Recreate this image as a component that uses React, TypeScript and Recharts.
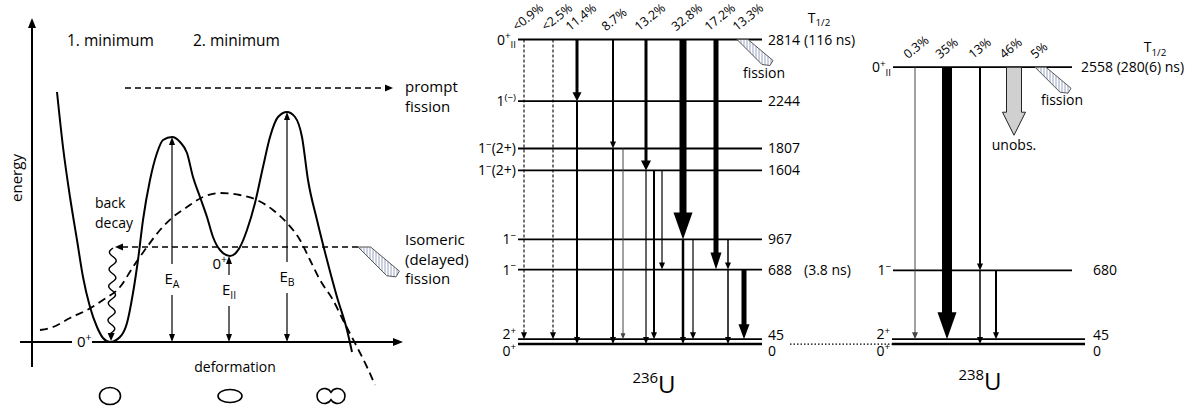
import React from "react";
import { ComposedChart, Line, XAxis, YAxis, ReferenceLine, ReferenceDot } from "recharts";

const FONT = "'Open Sans', 'Noto Sans', sans-serif";

/* ---------- potential energy along the fission path (arbitrary units) ---------- */

// [deformation, energy] read along the double-humped barrier
const doubleHump: [number, number][] = [
  [2.5, 25.0], [3.1, 19.5], [3.8, 14.5], [4.5, 10.2], [5.1, 6.5], [5.8, 3.5], [6.5, 1.5],
  [7.1, 0.4], [7.8, 0], [8.8, 0.5], [9.5, 1.9], [10.1, 4.9], [10.6, 8.2], [11.1, 12.2],
  [11.8, 16.2], [12.5, 18.9], [13.1, 20.2], [14.0, 20.5], [14.8, 20.0], [15.5, 18.9],
  [16.1, 16.5], [16.8, 14.5], [17.5, 12.5], [18.1, 10.5], [18.8, 9.2], [19.8, 8.6],
  [20.8, 9.5], [21.5, 11.2], [22.3, 13.9], [23.1, 17.5], [23.8, 20.5], [24.6, 22.5],
  [25.5, 23.0], [26.3, 22.5], [27.0, 20.5], [27.6, 16.2], [28.5, 12.2], [29.5, 8.2],
  [30.5, 4.5], [31.5, 1.2], [32.0, -1.0],
];

// liquid-drop barrier (dashed)
const liquidDrop: [number, number][] = [
  [0.8, 1.2], [2.1, 1.5], [3.8, 2.4], [5.5, 3.2], [7.1, 4.2], [8.8, 5.5], [10.1, 7.5],
  [11.5, 9.5], [12.8, 11.2], [14.1, 12.5], [15.5, 13.5], [17.1, 14.5], [18.8, 14.9],
  [20.8, 14.7], [22.5, 14.2], [24.1, 13.2], [25.5, 11.9], [26.8, 10.2], [27.8, 8.2],
  [28.8, 6.2], [30.1, 4.2], [31.1, 2.2], [32.5, -0.5], [33.5, -2.5], [34.3, -4.3],
];

const barriers = [
  { label: "E_{A}", d: 14.0, top: 20.5, at: 6.3 },
  { label: "E_{II}", d: 19.7, top: 8.6, at: 5.2 },
  { label: "E_{B}", d: 25.5, top: 23.0, at: 6.5 },
];

const isomerE = 9.5;
const promptE = 25.4;

const nuclearShapes = [
  { kind: "sphere", d: 7.8 },
  { kind: "prolate", d: 19.8 },
  { kind: "necked", d: 29.9 },
];

const notesLeft = [
  { d: 3.5, e: 29.6, lines: ["1. minimum"], size: 15.5 },
  { d: 16.1, e: 29.6, lines: ["2. minimum"], size: 15.5 },
  { d: 37.3, e: 25.0, lines: ["prompt", "fission"], size: 15 },
  { d: 37.3, e: 9.7, lines: ["Isomeric", "(delayed)", "fission"], size: 15 },
  { d: 6.3, e: 13.4, lines: ["back", "decay"], size: 14 },
  { d: 20.3, e: -3.0, lines: ["deformation"], size: 14, anchor: "middle" },
];

/* ---------- level schemes (energies in keV) ---------- */

type Level = { E: number; jp: string; note?: string };
type Gamma = { from: number; to: number; branch?: string };
type GStyle = { w: number; hw: number; hl: number; dash?: string; color?: string };

const levels236: Level[] = [
  { E: 2814, jp: "0^{+}_{II}", note: "(116 ns)" },
  { E: 2244, jp: "1^{(−)}" },
  { E: 1807, jp: "1^{−}(2+)" },
  { E: 1604, jp: "1^{−}(2+)" },
  { E: 967, jp: "1^{−}" },
  { E: 688, jp: "1^{−}", note: "(3.8 ns)" },
  { E: 45, jp: "2^{+}" },
  { E: 0, jp: "0^{+}" },
];

const gammas236: Gamma[] = [
  { from: 2814, to: 45, branch: "<0.9%" },
  { from: 2814, to: 45, branch: "<2.5%" },
  { from: 2814, to: 2244, branch: "11.4%" },
  { from: 2814, to: 1807, branch: "8.7%" },
  { from: 2814, to: 1604, branch: "13.2%" },
  { from: 2814, to: 967, branch: "32.8%" },
  { from: 2814, to: 688, branch: "17.2%" },
  { from: 2244, to: 0 },
  { from: 1807, to: 0 },
  { from: 1807, to: 45 },
  { from: 1604, to: 0 },
  { from: 1604, to: 45 },
  { from: 1604, to: 688 },
  { from: 967, to: 0 },
  { from: 967, to: 45 },
  { from: 967, to: 688 },
  { from: 688, to: 0 },
  { from: 688, to: 45 },
];
const fission236 = { E: 2814, branch: "13.3%" };

const levels238: Level[] = [
  { E: 2558, jp: "0^{+}_{II}", note: "(280(6) ns)" },
  { E: 680, jp: "1^{−}" },
  { E: 45, jp: "2^{+}" },
  { E: 0, jp: "0^{+}" },
];

const gammas238: Gamma[] = [
  { from: 2558, to: 45, branch: "0.3%" },
  { from: 2558, to: 45, branch: "35%" },
  { from: 2558, to: 680, branch: "13%" },
  { from: 680, to: 0 },
  { from: 680, to: 45 },
];
const unobserved238 = { E: 2558, branch: "46%" };
const fission238 = { E: 2558, branch: "5%" };

/* ---------- drawing layout ---------- */

const thin: GStyle = { w: 1.2, hw: 6, hl: 7 };
const lanes236 = [54, 83, 107, 143, 176, 213, 246, 107, 143, 153, 176, 184, 192, 213, 223, 258, 258, 274];
const styles236: GStyle[] = [
  { w: 1.1, hw: 6, hl: 7, dash: "3 2" },
  { w: 1.1, hw: 6, hl: 7, dash: "3 2" },
  { w: 3, hw: 9, hl: 9 },
  { w: 2, hw: 6, hl: 7 },
  { w: 3, hw: 10, hl: 10 },
  { w: 7, hw: 19, hl: 27 },
  { w: 5, hw: 11, hl: 17 },
  { w: 2, hw: 6, hl: 7 },
  { w: 2, hw: 6, hl: 7 },
  { w: 1, hw: 5, hl: 6, color: "#444" },
  thin,
  { w: 2, hw: 6, hl: 7 },
  thin,
  { w: 2.5, hw: 6, hl: 7 },
  thin,
  { w: 1.5, hw: 6, hl: 7 },
  { w: 1.5, hw: 6, hl: 7 },
  { w: 5, hw: 11, hl: 15 },
];
const lanes238 = [445, 477, 510, 510, 526];
const styles238: GStyle[] = [
  { w: 1, hw: 6, hl: 7, color: "#444" },
  { w: 10, hw: 19, hl: 27 },
  { w: 2, hw: 6, hl: 7 },
  { w: 1.5, hw: 6, hl: 7 },
  { w: 2, hw: 6, hl: 7 },
];

const PCT = 12.5;
const LABEL = 14;

/* ---------- helpers ---------- */

// superscript ^{..} and subscript _{..} markup to tspans
function rich(src: string, size: number) {
  const parts: { t: string; k: string }[] = [];
  const re = /([\^_])\{([^}]*)\}|([^\^_]+)/g;
  let m: RegExpExecArray | null;
  while ((m = re.exec(src))) {
    if (m[3]) parts.push({ t: m[3], k: "n" });
    else parts.push({ t: m[2], k: m[1] === "^" ? "sup" : "sub" });
  }
  let cur = 0;
  return parts.map((p, i) => {
    const target = p.k === "sup" ? -0.4 * size : p.k === "sub" ? 0.28 * size : 0;
    const dy = target - cur;
    cur = target;
    return (
      <tspan key={i} dy={dy} fontSize={p.k === "n" ? size : size * 0.7}>
        {p.t}
      </tspan>
    );
  });
}

function head(x: number, y: number, ux: number, uy: number, w: number, l: number) {
  const bx = x - ux * l;
  const by = y - uy * l;
  const px = (-uy * w) / 2;
  const py = (ux * w) / 2;
  return `${x},${y} ${bx + px},${by + py} ${bx - px},${by - py}`;
}

const arrowShape = (o: { w: number; hw: number; hl: number; dash?: string; both?: boolean }) => (p: any) => {
  const { x1, y1, x2, y2 } = p;
  const L = Math.hypot(x2 - x1, y2 - y1);
  const ux = (x2 - x1) / L;
  const uy = (y2 - y1) / L;
  const sx = o.both ? x1 + ux * (o.hl - 1) : x1;
  const sy = o.both ? y1 + uy * (o.hl - 1) : y1;
  return (
    <g>
      <line x1={sx} y1={sy} x2={x2 - ux * (o.hl - 1)} y2={y2 - uy * (o.hl - 1)} stroke="#000" strokeWidth={o.w} strokeDasharray={o.dash} />
      <polygon points={head(x2, y2, ux, uy, o.hw, o.hl)} fill="#000" />
      {o.both && <polygon points={head(x1, y1, -ux, -uy, o.hw, o.hl)} fill="#000" />}
    </g>
  );
};

const wavyShape = (p: any) => {
  const { x1, y1, x2, y2 } = p;
  const L = Math.hypot(x2 - x1, y2 - y1);
  const ux = (x2 - x1) / L;
  const uy = (y2 - y1) / L;
  const hl = 8;
  let d = "";
  for (let t = 0; t <= L - hl + 1; t += 1) {
    const o = 3.5 * Math.sin((2 * Math.PI * t) / 17);
    d += `${t === 0 ? "M" : "L"}${(x1 + ux * t - uy * o).toFixed(2)},${(y1 + uy * t + ux * o).toFixed(2)}`;
  }
  return (
    <g>
      <path d={d} fill="none" stroke="#000" strokeWidth={1.4} />
      <polygon points={head(x2, y2, ux, uy, 7, hl)} fill="#000" />
    </g>
  );
};

// rotated branching-ratio label above the starting level
const branchText = (x: number, y: number, t: string) => (
  <text transform={`translate(${x},${y}) rotate(-39)`} fontSize={PCT} fontFamily={FONT}>
    {t}
  </text>
);

function hatched(id: string, s: number, label?: string, branch?: string) {
  return (p: any) => {
    const { cx, cy } = p;
    const pts = [[0, 0], [11, 0], [36, 21], [33, 26], [25, 25]]
      .map(([a, b]) => `${cx + a * s},${cy + b * s}`)
      .join(" ");
    return (
      <g>
        <defs>
          <pattern id={id} width={3} height={4} patternUnits="userSpaceOnUse">
            <rect width={3} height={4} fill="#fff" />
            <line x1={1} y1={0} x2={1} y2={4} stroke="#9aa3c2" strokeWidth={1} />
          </pattern>
        </defs>
        <polygon points={pts} fill={`url(#${id})`} stroke="#555" strokeWidth={1} />
        {label && (
          <text x={cx + 27} y={cy + 38} textAnchor="middle" fontSize={14} fontFamily={FONT}>
            {label}
          </text>
        )}
        {branch && branchText(cx, cy - 8, branch)}
      </g>
    );
  };
}

const textDot = (n: { lines: string[]; size: number; anchor?: string }) => (p: any) => (
  <text x={p.cx} y={p.cy} fontSize={n.size} fontFamily={FONT} textAnchor={n.anchor ?? "start"}>
    {n.lines.map((l, i) => (
      <tspan key={i} x={p.cx} dy={i === 0 ? 0 : 19.5}>
        {l}
      </tspan>
    ))}
  </text>
);

const shapeDot = (kind: string) => (p: any) => {
  const { cx, cy } = p;
  if (kind === "sphere") return <ellipse cx={cx} cy={cy} rx={10.5} ry={8.5} fill="none" stroke="#000" strokeWidth={1.6} />;
  if (kind === "prolate") return <ellipse cx={cx} cy={cy} rx={12} ry={6.5} fill="none" stroke="#000" strokeWidth={1.6} />;
  const h = 3.74;
  return (
    <path
      d={`M${cx},${cy - h} A7.5 7.5 0 1 0 ${cx},${cy + h} A7.5 7.5 0 1 0 ${cx},${cy - h} Z`}
      fill="none"
      stroke="#000"
      strokeWidth={1.6}
    />
  );
};

const noMargin = { top: 0, right: 0, bottom: 0, left: 0 };

function PotentialPanel() {
  const hump = doubleHump.map(([d, e]) => ({ d, e }));
  const drop = liquidDrop.map(([d, e]) => ({ d, e }));
  return (
    <ComposedChart width={470} height={408} margin={noMargin}>
      <XAxis type="number" dataKey="d" domain={[-3.2, 43.8]} allowDataOverflow hide />
      <YAxis type="number" dataKey="e" domain={[-6.6, 34.2]} allowDataOverflow hide />
      <ReferenceLine segment={[{ x: 0, y: -2.5 }, { x: 0, y: 32.4 }]} ifOverflow="visible" shape={arrowShape({ w: 2, hw: 8, hl: 10 })} />
      <ReferenceLine segment={[{ x: -1.2, y: 0 }, { x: 37.1, y: 0 }]} ifOverflow="visible" shape={arrowShape({ w: 2, hw: 8, hl: 10 })} />
      <Line data={drop} dataKey="e" type="monotone" stroke="#000" strokeWidth={1.8} strokeDasharray="8 5" dot={false} activeDot={false} isAnimationActive={false} />
      <Line data={hump} dataKey="e" type="monotone" stroke="#000" strokeWidth={2} dot={false} activeDot={false} isAnimationActive={false} />
      <ReferenceLine segment={[{ x: 9.3, y: promptE }, { x: 36.1, y: promptE }]} ifOverflow="visible" shape={arrowShape({ w: 1.3, hw: 7, hl: 8, dash: "6 4" })} />
      <ReferenceLine segment={[{ x: 32.6, y: isomerE }, { x: 8.3, y: isomerE }]} ifOverflow="visible" shape={arrowShape({ w: 1.3, hw: 7, hl: 8, dash: "6 4" })} />
      <ReferenceDot x={32.6} y={isomerE} ifOverflow="visible" shape={hatched("hatch-pot", 1.15)} />
      <ReferenceLine segment={[{ x: 8.1, y: isomerE - 0.1 }, { x: 7.9, y: 0.1 }]} ifOverflow="visible" shape={wavyShape} />
      {barriers.map((b) => (
        <ReferenceLine key={b.label} segment={[{ x: b.d, y: 0 }, { x: b.d, y: b.top }]} ifOverflow="visible" shape={arrowShape({ w: 1.2, hw: 6, hl: 8, both: true })} />
      ))}
      {barriers.map((b) => (
        <ReferenceDot
          key={b.label + "t"}
          x={b.d}
          y={b.at}
          ifOverflow="visible"
          shape={(p: any) => (
            <g>
              <rect x={p.cx - 10} y={p.cy - 15} width={20} height={31} fill="#fff" />
              <text x={p.cx} y={p.cy + 5} textAnchor="middle" fontSize={15} fontFamily={FONT}>
                {rich(b.label, 15)}
              </text>
            </g>
          )}
        />
      ))}
      <ReferenceDot
        x={19.5}
        y={7.3}
        ifOverflow="visible"
        shape={(p: any) => (
          <text x={p.cx} y={p.cy} textAnchor="end" fontSize={15} fontFamily={FONT}>
            {rich("0^{+}", 15)}
          </text>
        )}
      />
      <ReferenceDot
        x={4.5}
        y={-0.5}
        ifOverflow="visible"
        shape={(p: any) => (
          <g>
            <rect x={p.cx - 5} y={p.cy - 13} width={20} height={17} fill="#fff" />
            <text x={p.cx} y={p.cy} fontSize={15} fontFamily={FONT}>
              {rich("0^{+}", 15)}
            </text>
          </g>
        )}
      />
      {notesLeft.map((n, i) => (
        <ReferenceDot key={"n" + i} x={n.d} y={n.e} ifOverflow="visible" shape={textDot(n)} />
      ))}
      <ReferenceDot
        x={-1.5}
        y={16.4}
        ifOverflow="visible"
        shape={(p: any) => (
          <text transform={`translate(${p.cx + 5},${p.cy}) rotate(-90)`} textAnchor="middle" fontSize={15} fontFamily={FONT}>
            energy
          </text>
        )}
      />
      {nuclearShapes.map((s) => (
        <ReferenceDot key={s.kind} x={s.d} y={-5.4} ifOverflow="visible" shape={shapeDot(s.kind)} />
      ))}
    </ComposedChart>
  );
}

type Scheme = {
  key: string;
  mass: string;
  levels: Level[];
  gammas: Gamma[];
  lanes: number[];
  styles: GStyle[];
  span: (E: number) => [number, number];
  rightCol: (E: number, end: number) => number;
  noteCol?: number;
  halfLife: { col: number; dy: number };
  name: { col: number; E: number };
};

const scheme236: Scheme = {
  key: "236",
  mass: "236",
  levels: levels236,
  gammas: gammas236,
  lanes: lanes236,
  styles: styles236,
  span: () => [48, 292],
  rightCol: (_E, end) => end + 6,
  noteCol: 334,
  halfLife: { col: 349, dy: -17 },
  name: { col: 184, E: -453 },
};

const scheme238: Scheme = {
  key: "238",
  mass: "238",
  levels: levels238,
  gammas: gammas238,
  lanes: lanes238,
  styles: styles238,
  span: (E) => (E > 100 ? [423, 602] : [422, 615]),
  rightCol: (E) => (E > 1000 ? 611 : 623),
  halfLife: { col: 685, dy: -15 },
  name: { col: 510, E: -425 },
};

function levelShape(s: Scheme, lv: Level) {
  return (p: any) => {
    const { x1, y1, x2 } = p;
    const end = s.span(lv.E)[1];
    const px = (col: number) => x2 + (col - end);
    const leftDy = lv.E === 0 ? 7 : lv.E === 45 ? -5 : 0;
    const rightDy = lv.E === 0 ? 7 : lv.E === 45 ? -4 : 0;
    return (
      <g fontFamily={FONT}>
        <line x1={x1} y1={y1} x2={x2} y2={y1} stroke="#000" strokeWidth={lv.E === 0 ? 2.6 : 1.8} />
        <text x={x1 - 2} y={y1 + leftDy + 5} textAnchor="end" fontSize={LABEL}>
          {rich(lv.jp, LABEL)}
        </text>
        <text x={px(s.rightCol(lv.E, end))} y={y1 + rightDy + 5} fontSize={LABEL}>
          {String(lv.E)}
          {lv.note && s.noteCol === undefined && <tspan>{" " + lv.note}</tspan>}
        </text>
        {lv.note && s.noteCol !== undefined && (
          <text x={px(s.noteCol)} y={y1 + 5} fontSize={LABEL}>
            {lv.note}
          </text>
        )}
        {lv.note && lv.E > 2000 && (
          <text x={px(s.halfLife.col)} y={y1 + s.halfLife.dy} textAnchor="middle" fontSize={LABEL}>
            {rich("T_{1/2}", LABEL)}
          </text>
        )}
      </g>
    );
  };
}

function gammaShape(g: Gamma, st: GStyle) {
  return (p: any) => {
    const { x1, y1, x2, y2 } = p;
    const c = st.color ?? "#000";
    return (
      <g>
        <line x1={x1} y1={y1} x2={x2} y2={y2 - st.hl + 1} stroke={c} strokeWidth={st.w} strokeDasharray={st.dash} />
        <polygon points={head(x2, y2, 0, 1, st.hw, st.hl)} fill={c} />
        {g.branch && branchText(x1 - 7, y1 - 8, g.branch)}
      </g>
    );
  };
}

function renderScheme(s: Scheme) {
  const out: React.ReactNode[] = [];
  s.levels.forEach((lv) => {
    const [a, b] = s.span(lv.E);
    out.push(
      <ReferenceLine key={s.key + "L" + lv.E} segment={[{ x: a, y: lv.E }, { x: b, y: lv.E }]} ifOverflow="visible" shape={levelShape(s, lv)} />
    );
  });
  s.gammas.forEach((g, i) => {
    out.push(
      <ReferenceLine
        key={s.key + "G" + i}
        segment={[{ x: s.lanes[i], y: g.from }, { x: s.lanes[i], y: g.to }]}
        ifOverflow="visible"
        shape={gammaShape(g, s.styles[i])}
      />
    );
  });
  out.push(
    <ReferenceDot
      key={s.key + "name"}
      x={s.name.col}
      y={s.name.E}
      ifOverflow="visible"
      shape={(p: any) => (
        <text x={p.cx} y={p.cy} textAnchor="middle" fontFamily={FONT}>
          <tspan fontSize={15} dy={-10}>
            {s.mass}
          </tspan>
          <tspan fontSize={24} dy={10}>
            U
          </tspan>
        </text>
      )}
    />
  );
  return out;
}

const unobsShape = (p: any) => {
  const { cx, cy } = p;
  const pts = [[-7.5, 0], [7.5, 0], [7.5, 45], [11.5, 45], [0, 68], [-11.5, 45], [-7.5, 45]]
    .map(([a, b]) => `${cx + a},${cy + b}`)
    .join(" ");
  return (
    <g fontFamily={FONT}>
      <polygon points={pts} fill="#d0d0d0" stroke="#222" strokeWidth={1} />
      <text x={cx} y={cy + 83} textAnchor="middle" fontSize={14}>
        unobs.
      </text>
      {branchText(cx - 10, cy - 8, unobserved238.branch)}
    </g>
  );
};

function LevelPanel() {
  return (
    <ComposedChart width={729} height={408} margin={noMargin}>
      <XAxis type="number" dataKey="col" domain={[0, 729]} allowDataOverflow hide />
      <YAxis type="number" dataKey="E" domain={[-591, 3179]} allowDataOverflow hide />
      {renderScheme(scheme236)}
      {renderScheme(scheme238)}
      <ReferenceDot x={267} y={fission236.E} ifOverflow="visible" shape={hatched("hatch-236", 1, "fission", fission236.branch)} />
      <ReferenceDot x={565} y={fission238.E} ifOverflow="visible" shape={hatched("hatch-238", 1, "fission", fission238.branch)} />
      <ReferenceDot x={544} y={unobserved238.E} ifOverflow="visible" shape={unobsShape} />
      <ReferenceLine
        segment={[{ x: 320, y: 0 }, { x: 422, y: 0 }]}
        ifOverflow="visible"
        shape={(p: any) => <line x1={p.x1} y1={p.y1} x2={p.x2} y2={p.y2} stroke="#000" strokeWidth={1.2} strokeDasharray="1.5 2" />}
      />
    </ComposedChart>
  );
}

export default function App() {
  return (
    <div style={{ position: "absolute", left: 0, top: 0, width: 1199, height: 408, background: "#fff" }}>
      <div style={{ position: "absolute", left: 0, top: 0 }}>
        <PotentialPanel />
      </div>
      <div style={{ position: "absolute", left: 470, top: 0 }}>
        <LevelPanel />
      </div>
    </div>
  );
}
